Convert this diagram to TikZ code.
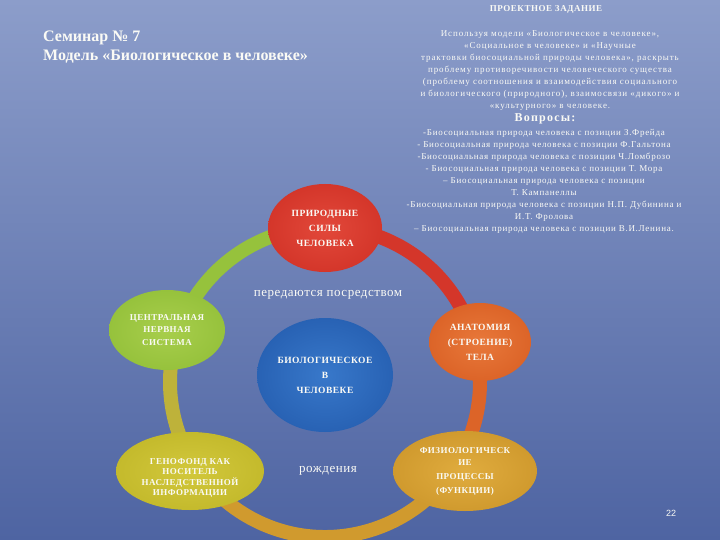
\documentclass[tikz,border=0pt]{standalone}
\usepackage{fontspec}
\setmainfont{Liberation Serif}
\setsansfont{Liberation Sans}
\usetikzlibrary{shapes.geometric}
\definecolor{bgtop}{RGB}{140,157,202}
\definecolor{bgbot}{RGB}{78,100,162}
\definecolor{cRed}{RGB}{212,54,42}
\definecolor{cRedIn}{RGB}{226,72,58}
\definecolor{cGreen}{RGB}{150,194,60}
\definecolor{cGreenIn}{RGB}{168,206,76}
\definecolor{cBlue}{RGB}{40,98,180}
\definecolor{cBlueIn}{RGB}{56,120,202}
\definecolor{cOrange}{RGB}{220,100,40}
\definecolor{cOrangeIn}{RGB}{232,120,58}
\definecolor{cYellow}{RGB}{196,186,44}
\definecolor{cYellowIn}{RGB}{210,200,60}
\definecolor{cGold}{RGB}{208,154,46}
\definecolor{cGoldIn}{RGB}{224,172,62}
\definecolor{cOlive}{RGB}{190,178,58}
\definecolor{txt}{RGB}{250,250,245}
\newcommand{\nodefont}[2]{\fontsize{#1}{#2}\selectfont\bfseries\addfontfeature{LetterSpace=5}}
\tikzset{
  ring/.style={line width=14pt},
  blob/.style={ellipse, inner sep=0pt, align=center, text=txt,
    font=\nodefont{9.5}{14}},
  small/.style={text=txt, align=center},
}
\begin{document}
\begin{tikzpicture}[x=1pt,y=-1pt]
\useasboundingbox (0,0) rectangle (720,540);
\shade[top color=bgtop,bottom color=bgbot] (0,0) rectangle (720,540);

% ring
\coordinate (c) at (325,382);
\begin{scope}
\clip (0,0) rectangle (720,540);
\draw[ring,cRed] (c) ++(-90:155) arc[start angle=-90,end angle=-15,radius=155];
\draw[ring,cGreen] (c) ++(-165:155) arc[start angle=-165,end angle=-90,radius=155];
\draw[ring,cOlive] (c) ++(150:155) arc[start angle=150,end angle=195,radius=155];
\draw[ring,cGold] (c) ++(30:155) arc[start angle=30,end angle=150,radius=155];
\draw[ring,cOrange] (c) ++(-15:155) arc[start angle=-15,end angle=30,radius=155];
\end{scope}

% nodes
\node[blob, minimum width=114pt, minimum height=88pt, inner color=cRedIn, outer color=cRed,
  font=\nodefont{9.5}{15}]
  (red) at (325,228) {ПРИРОДНЫЕ\\СИЛЫ\\ЧЕЛОВЕКА};
\node[blob, minimum width=116pt, minimum height=80pt, inner color=cGreenIn, outer color=cGreen,
  font=\nodefont{9}{12.5}]
  (green) at (167,330) {ЦЕНТРАЛЬНАЯ\\НЕРВНАЯ\\СИСТЕМА};
\node[blob, minimum width=136pt, minimum height=114pt, inner color=cBlueIn, outer color=cBlue,
  font=\nodefont{9.5}{15}]
  (blue) at (325,375) {БИОЛОГИЧЕСКОЕ\\В\\ЧЕЛОВЕКЕ};
\node[blob, minimum width=102pt, minimum height=78pt, inner color=cOrangeIn, outer color=cOrange,
  font=\nodefont{9.5}{15}]
  (orange) at (480,342) {АНАТОМИЯ\\(СТРОЕНИЕ)\\ТЕЛА};
\node[blob, minimum width=148pt, minimum height=78pt, inner color=cYellowIn, outer color=cYellow]
  (yellow) at (190,471) {};
\node[text=txt, align=center, inner sep=0pt, font=\nodefont{9}{10.5}]
  (yellowtxt) at (190,478) {ГЕНОФОНД КАК\\НОСИТЕЛЬ\\НАСЛЕДСТВЕННОЙ\\ИНФОРМАЦИИ};
\node[blob, minimum width=144pt, minimum height=80pt, inner color=cGoldIn, outer color=cGold,
  font=\nodefont{9}{14}]
  (gold) at (465,471) {ФИЗИОЛОГИЧЕСК\\[-2pt]ИЕ\\ПРОЦЕССЫ\\(ФУНКЦИИ)};

% labels
\node[text=txt, font=\fontsize{13}{14}\selectfont\addfontfeature{LetterSpace=4}] (via) at (328,295) {передаются посредством};
\node[text=txt, font=\fontsize{13}{14}\selectfont\addfontfeature{LetterSpace=4}] (birth) at (328,471) {рождения};

% title
\node[anchor=base west, inner sep=0pt, text=txt, align=left, font=\fontsize{16}{19.5}\selectfont\bfseries]
  (title) at (43,61) {Семинар № 7\\Модель «Биологическое в человеке»};

% right block
\node[text=txt, font=\fontsize{9}{10}\selectfont\bfseries\addfontfeature{LetterSpace=6}] (task) at (546,9) {ПРОЕКТНОЕ ЗАДАНИЕ};
\node[small, anchor=north, font=\fontsize{9}{12}\selectfont\addfontfeature{LetterSpace=10}] (desc) at (550,27) {Используя модели «Биологическое в человеке»,\\
«Социальное в человеке» и «Научные\\
трактовки биосоциальной природы человека», раскрыть\\
проблему противоречивости человеческого существа\\
(проблему соотношения и взаимодействия социального\\
и биологического (природного), взаимосвязи «дикого» и\\
«культурного» в человеке.};
\node[text=txt, font=\fontsize{12}{12}\selectfont\bfseries\addfontfeature{LetterSpace=10}] (q) at (545,119) {Вопросы:};
\node[small, anchor=north, font=\fontsize{9}{12}\selectfont\addfontfeature{LetterSpace=8}] (qs) at (544,126) {-Биосоциальная природа человека с позиции З.Фрейда\\
- Биосоциальная природа человека с позиции Ф.Гальтона\\
-Биосоциальная природа человека с позиции Ч.Ломброзо\\
- Биосоциальная природа человека с позиции Т. Мора\\
– Биосоциальная природа человека с позиции\\
Т. Кампанеллы\\
-Биосоциальная природа человека с позиции Н.П. Дубинина и\\
И.Т. Фролова\\
– Биосоциальная природа человека с позиции В.И.Ленина.};

\node[text=txt, font=\sffamily\fontsize{9}{10}\selectfont] (page) at (671,513) {22};
\end{tikzpicture}
\end{document}
